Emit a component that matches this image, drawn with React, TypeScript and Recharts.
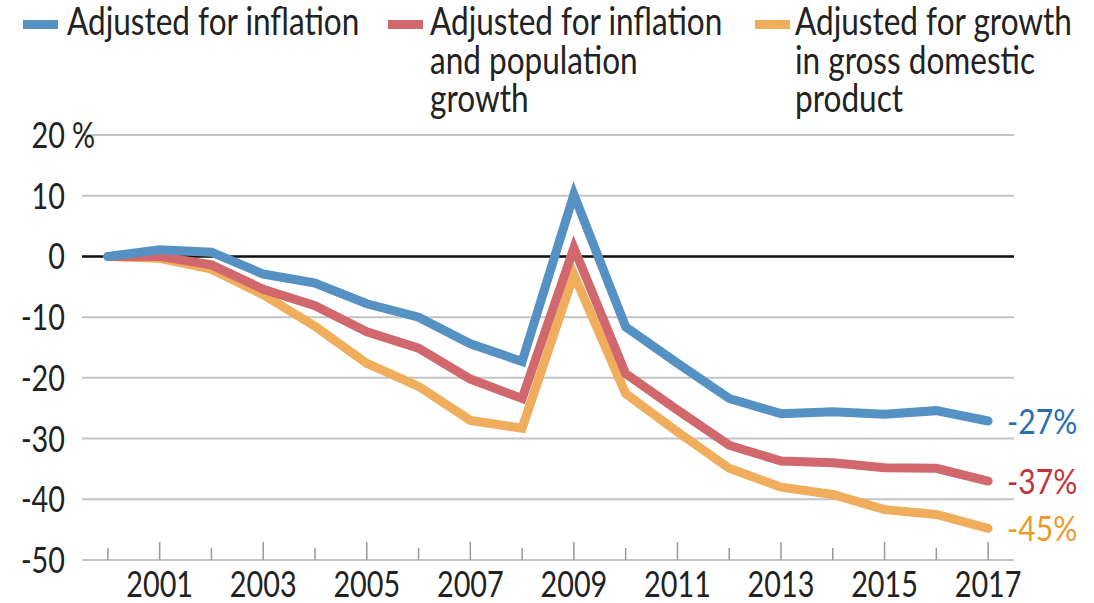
import React from 'react';
import { LineChart, Line, XAxis, YAxis, CartesianGrid, ReferenceLine } from 'recharts';

const years = [2000, 2001, 2002, 2003, 2004, 2005, 2006, 2007, 2008, 2009, 2010, 2011, 2012, 2013, 2014, 2015, 2016, 2017];
const inflation = [0, 1.1, 0.7, -2.9, -4.4, -7.8, -10.0, -14.4, -17.3, 10.2, -11.6, -17.6, -23.4, -25.9, -25.6, -26.0, -25.4, -27.1];
const inflationPop = [0, 0, -1.4, -5.4, -8.1, -12.4, -15.1, -20.2, -23.4, 1.4, -19.3, -25.3, -31.1, -33.7, -34.0, -34.8, -34.9, -37.0];
const gdpGrowth = [0, -0.3, -2.1, -6.3, -11.5, -17.6, -21.4, -27.0, -28.3, -3.0, -22.6, -28.9, -34.9, -38.0, -39.2, -41.7, -42.5, -44.8];
const yTicks = [20, 10, 0, -10, -20, -30, -40, -50];
const labeledYears = [2001, 2003, 2005, 2007, 2009, 2011, 2013, 2015, 2017];
const endLabels = ['-27%', '-37%', '-45%'];
const seriesKeys = ['inflation', 'inflationPop', 'gdpGrowth'];
const legendLines = [
  ['Adjusted for inflation'],
  ['Adjusted for inflation', 'and population', 'growth'],
  ['Adjusted for growth', 'in gross domestic', 'product'],
];

const lineColors = ['#5592c3', '#d0686d', '#f0ad5b'];
const labelColors = ['#2a6eb0', '#c2343c', '#ec9a2c'];
const FONT = 'Lato, "Open Sans", sans-serif';
const TEXT = '#222';
const AX_SCALE = 0.8;

const data = years.map((y, i) => ({
  year: y,
  inflation: inflation[i],
  inflationPop: inflationPop[i],
  gdpGrowth: gdpGrowth[i],
}));

const XTick = (props: any) => {
  const { x, y, payload } = props;
  const major = labeledYears.includes(payload.value);
  return (
    <g>
      <line x1={x} x2={x} y1={y} y2={y - (major ? 18 : 12)} stroke="#999" strokeWidth={1.5} />
      {major && (
        <text
          transform={`translate(${x},${y + 37}) scale(${AX_SCALE},1)`}
          textAnchor="middle"
          fontFamily={FONT}
          fontSize={36}
          fill={TEXT}
        >
          {payload.value}
        </text>
      )}
    </g>
  );
};

const YTick = (props: any) => {
  const { y, payload } = props;
  return (
    <g>
      <text
        transform={`translate(65,${y}) scale(${AX_SCALE},1)`}
        dy="0.36em"
        textAnchor="end"
        fontFamily={FONT}
        fontSize={36}
        fill={TEXT}
      >
        {payload.value}
      </text>
      {payload.value === 20 && (
        <text
          transform={`translate(72,${y}) scale(${AX_SCALE},1)`}
          dy="0.36em"
          textAnchor="start"
          fontFamily={FONT}
          fontSize={36}
          fill={TEXT}
        >
          %
        </text>
      )}
    </g>
  );
};

const endLabel = (i: number) => (p: any) => {
  if (p.index !== years.length - 1) return <g />;
  return (
    <text
      transform={`translate(${p.x + 19},${p.y}) scale(0.86,1)`}
      dy="0.36em"
      fontFamily={FONT}
      fontSize={35}
      fill={labelColors[i]}
    >
      {endLabels[i]}
    </text>
  );
};

const legendPos = [
  { sw: 23, tx: 67 },
  { sw: 388, tx: 430 },
  { sw: 755, tx: 795 },
];

export default function App() {
  return (
    <div style={{ position: 'absolute', left: 0, top: 0, width: 1094, height: 603, background: '#fff' }}>
      <LineChart width={1094} height={603} data={data} margin={{ top: 135, right: 80, bottom: 0, left: 0 }}>
        <CartesianGrid horizontal vertical={false} stroke="#c4c4c4" strokeWidth={2} />
        <XAxis
          dataKey="year"
          type="number"
          domain={[1999.5, 2017.5]}
          ticks={years}
          interval={0}
          height={43}
          axisLine={false}
          tickLine={false}
          tickSize={0}
          tickMargin={0}
          tick={<XTick />}
        />
        <YAxis
          width={82}
          domain={[-50, 20]}
          ticks={yTicks}
          interval={0}
          axisLine={false}
          tickLine={false}
          tick={<YTick />}
        />
        <ReferenceLine y={0} stroke="#111" strokeWidth={2.5} />
        {[2, 1, 0].map((i) => (
          <Line
            key={seriesKeys[i]}
            dataKey={seriesKeys[i]}
            stroke={lineColors[i]}
            strokeWidth={9}
            strokeLinecap="round"
            dot={false}
            isAnimationActive={false}
            label={endLabel(i)}
          />
        ))}
      </LineChart>
      {legendLines.map((lines, i) => (
        <div key={i}>
          <div
            style={{
              position: 'absolute',
              left: legendPos[i].sw,
              top: 20,
              width: 35,
              height: 9,
              background: lineColors[i],
            }}
          />
          <div
            style={{
              position: 'absolute',
              left: legendPos[i].tx,
              top: 1,
              fontFamily: FONT,
              fontSize: 38,
              lineHeight: '38.5px',
              color: TEXT,
              whiteSpace: 'nowrap',
            }}
          >
            {lines.map((l, j) => (
              <div key={j} style={{ transform: 'scaleX(0.83)', transformOrigin: '0 0' }}>
                {l}
              </div>
            ))}
          </div>
        </div>
      ))}
    </div>
  );
}
